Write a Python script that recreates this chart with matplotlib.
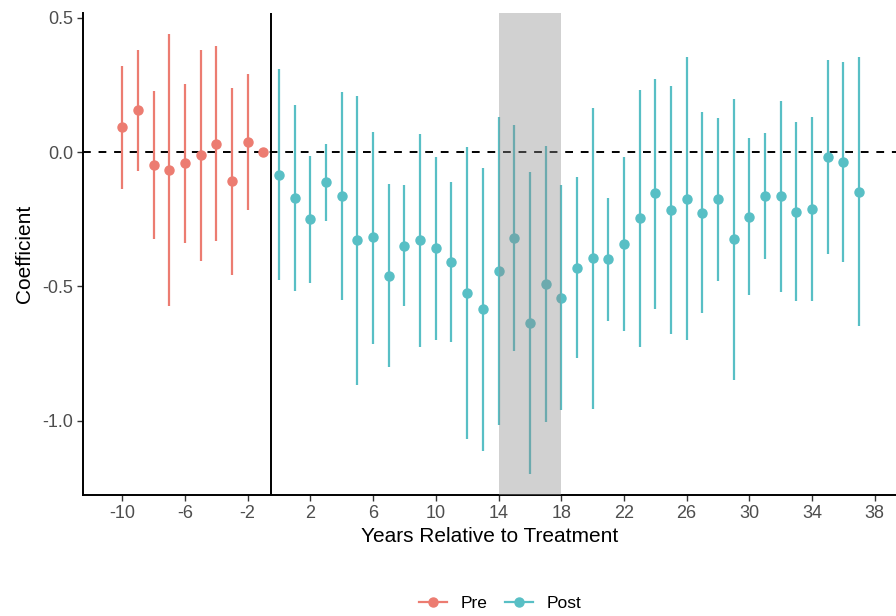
import numpy as np
import matplotlib
matplotlib.use('Agg')
import matplotlib.pyplot as plt
from matplotlib.lines import Line2D

plt.rcParams['font.family'] = ['Liberation Sans', 'DejaVu Sans']
plt.rcParams['axes.unicode_minus'] = False

# event-study estimates
pre_years = [-10, -9, -8, -7, -6, -5, -4, -3, -2, -1]
pre_coef = [0.092, 0.156, -0.048, -0.068, -0.042, -0.012, 0.032, -0.108, 0.037, 0.0]
pre_lo = [-0.137, -0.072, -0.323, -0.574, -0.339, -0.405, -0.330, -0.456, -0.215, 0.0]
pre_hi = [0.319, 0.382, 0.227, 0.438, 0.253, 0.382, 0.394, 0.238, 0.289, 0.0]

post_years = list(range(0, 38))
post_coef = [-0.084, -0.171, -0.251, -0.113, -0.164, -0.329, -0.318, -0.461, -0.349, -0.328,
             -0.358, -0.411, -0.526, -0.586, -0.442, -0.319, -0.637, -0.492, -0.543, -0.431,
             -0.396, -0.399, -0.343, -0.246, -0.154, -0.217, -0.173, -0.225, -0.176, -0.325,
             -0.241, -0.165, -0.165, -0.223, -0.212, -0.017, -0.038, -0.148]
post_lo = [-0.477, -0.518, -0.489, -0.257, -0.552, -0.869, -0.713, -0.802, -0.575, -0.724,
           -0.700, -0.709, -1.070, -1.112, -1.017, -0.739, -1.200, -1.007, -0.962, -0.768,
           -0.957, -0.628, -0.667, -0.725, -0.584, -0.679, -0.701, -0.600, -0.480, -0.847,
           -0.531, -0.398, -0.521, -0.556, -0.555, -0.379, -0.408, -0.647]
post_hi = [0.309, 0.175, -0.014, 0.030, 0.225, 0.210, 0.074, -0.120, -0.124, 0.067,
           -0.017, -0.113, 0.020, -0.060, 0.132, 0.102, -0.073, 0.024, -0.124, -0.093,
           0.164, -0.171, -0.020, 0.232, 0.273, 0.246, 0.355, 0.150, 0.128, 0.197,
           0.051, 0.070, 0.190, 0.111, 0.132, 0.343, 0.334, 0.353]

shade_start, shade_end = 14, 18
x_ticks = list(range(-10, 39, 4))
y_ticks = [0.5, 0.0, -0.5, -1.0]

c_pre = '#EC7C71'
c_post = '#58BFC5'

fig = plt.figure(figsize=(8.96, 6.16), dpi=100)
ax = fig.add_axes([83 / 896, 1 - 495 / 616, 1 - 83 / 896, (495 - 13) / 616])

for yrs, coef, lo, hi, col in [(pre_years, pre_coef, pre_lo, pre_hi, c_pre),
                               (post_years, post_coef, post_lo, post_hi, c_post)]:
    ax.vlines(yrs, lo, hi, color=col, linewidth=1.6, zorder=2)
    ax.plot(yrs, coef, 'o', color=col, markersize=6.5, zorder=3)

ax.axhline(0, color='black', linestyle=(0, (4, 4)), linewidth=1.4, zorder=1)
ax.axvline(-0.5, color='black', linewidth=1.4, zorder=1)
ax.axvspan(shade_start, shade_end, color='#8c8c8c', alpha=0.4, linewidth=0, zorder=4)

ax.set_xlim(-12.5, 39.35)
ax.set_ylim(-1.277, 0.518)
ax.set_xticks(x_ticks)
ax.set_yticks(y_ticks)
ax.set_yticklabels(['%.1f' % v for v in y_ticks])

for s in ['top', 'right']:
    ax.spines[s].set_visible(False)
for s in ['left', 'bottom']:
    ax.spines[s].set_linewidth(1.4)
ax.tick_params(axis='both', length=4, width=1.0, color='#333333',
               labelcolor='#4D4D4D', labelsize=13, pad=3)

ax.set_xlabel('Years Relative to Treatment', fontsize=15, labelpad=4)
ax.set_ylabel('Coefficient', fontsize=15, labelpad=6)

handles = [Line2D([], [], color=c_pre, marker='o', markersize=6.5, linewidth=1.6),
           Line2D([], [], color=c_post, marker='o', markersize=6.5, linewidth=1.6)]
fig.legend(handles, ['Pre', 'Post'], loc='center', bbox_to_anchor=(500 / 896, 1 - 603 / 616),
           ncol=2, frameon=False, fontsize=12.5, handlelength=1.6, columnspacing=1.0,
           handletextpad=0.8)

fig.savefig('out.png', dpi=100)
